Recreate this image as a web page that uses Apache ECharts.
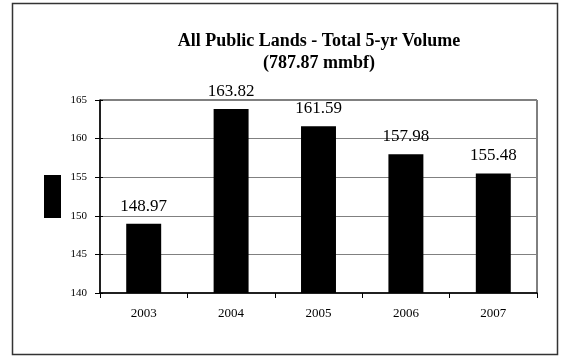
<!DOCTYPE html>
<html>
<head>
<meta charset="utf-8">
<script src="https://cdn.jsdelivr.net/npm/echarts@6/dist/echarts.min.js"></script>
<style>
  html, body { margin: 0; padding: 0; background: #fff; }
  #chart { width: 566px; height: 360px; }
</style>
</head>
<body>
<div id="chart"></div>
<script>
// Annual timber volume on all public lands, 2003-2007
const years = ['2003', '2004', '2005', '2006', '2007'];
const volumes = [148.97, 163.82, 161.59, 157.98, 155.48];
const yTicks = { min: 140, max: 165, step: 5 };
const titleLines = ['All Public Lands - Total 5-yr Volume', '(787.87 mmbf)'];

const serif = '"Liberation Serif", "Times New Roman", serif';
const chart = echarts.init(document.getElementById('chart'));

chart.setOption({
  backgroundColor: '#fff',
  animation: false,
  title: {
    text: titleLines.join('\n'),
    left: 314,
    top: 25,
    textAlign: 'center',
    textStyle: {
      fontFamily: serif,
      fontWeight: 'bold',
      fontSize: 18,
      lineHeight: 22,
      color: '#000'
    }
  },
  legend: {
    data: ['Volume'],
    left: 44,
    top: 175,
    orient: 'vertical',
    icon: 'rect',
    itemWidth: 17,
    itemHeight: 43,
    formatter: function () { return ''; },
    itemGap: 0,
    padding: 0
  },
  graphic: [{
    type: 'rect',
    shape: { x: 12.5, y: 3.5, width: 545, height: 351 },
    style: { fill: 'none', stroke: '#333', lineWidth: 1.5 },
    silent: true,
    z: 100
  }],
  grid: {
    left: 100,
    right: 29,
    top: 100,
    bottom: 67,
    show: true,
    borderColor: '#000',
    borderWidth: 1
  },
  xAxis: {
    type: 'category',
    data: years,
    axisLine: { lineStyle: { color: '#000', width: 1.5 } },
    axisTick: { show: true, length: 5, lineStyle: { color: '#000' } },
    axisLabel: { fontFamily: serif, fontSize: 13, color: '#000', margin: 14 }
  },
  yAxis: [{
    type: 'value',
    min: yTicks.min,
    max: yTicks.max,
    interval: yTicks.step,
    axisLine: { show: true, lineStyle: { color: '#000', width: 1.5 } },
    axisTick: { show: true, length: 5, lineStyle: { color: '#000' } },
    axisLabel: { fontFamily: serif, fontSize: 11, color: '#000', margin: 13 },
    splitLine: { lineStyle: { color: '#808080', width: 1 } }
  }, {
    // inner half of the crossing tick marks on the value axis
    type: 'value',
    position: 'left',
    min: yTicks.min,
    max: yTicks.max,
    interval: yTicks.step,
    axisLine: { show: false },
    axisTick: { show: true, inside: true, length: 3, lineStyle: { color: '#000' } },
    axisLabel: { show: false },
    splitLine: { show: false }
  }],
  series: [{
    name: 'Volume',
    type: 'bar',
    data: volumes,
    barWidth: '40%',
    itemStyle: { color: '#000' },
    label: {
      show: true,
      position: 'top',
      distance: 9,
      fontFamily: serif,
      fontSize: 17,
      color: '#000',
      formatter: function (p) { return p.value.toFixed(2); }
    }
  }]
});
</script>
</body>
</html>
